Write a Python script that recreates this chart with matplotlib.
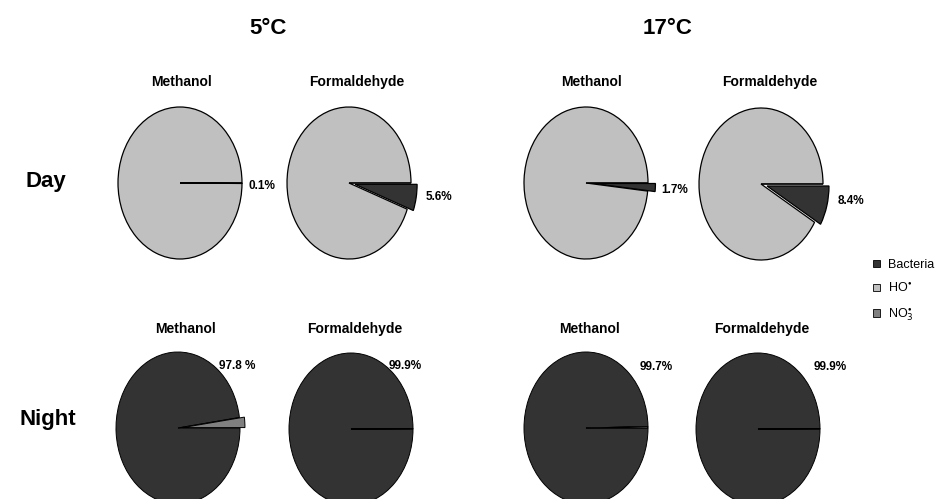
import matplotlib
matplotlib.use('Agg')
import matplotlib.pyplot as plt
from matplotlib.patches import Patch

plt.rcParams['font.family'] = ['Liberation Sans', 'DejaVu Sans']

W, H = 936, 499

# shares in %, order: Bacteria, HO, NO3
sources = ['Bacteria', r'HO$^{\bullet}$', r'NO$_3^{\bullet}$']
colors = ['#333333', '#c0c0c0', '#808080']

temps = ['5°C', '17°C']
compounds = ['Methanol', 'Formaldehyde']

day_5 = [[0.1, 99.9, 0.0], [5.6, 94.4, 0.0]]
day_17 = [[1.7, 98.3, 0.0], [8.4, 91.6, 0.0]]
night_5 = [[97.8, 0.0, 2.2], [99.9, 0.0, 0.1]]
night_17 = [[99.7, 0.0, 0.3], [99.9, 0.0, 0.1]]

day_labels = ['0.1%', '5.6%', '1.7%', '8.4%']
night_labels = ['97.8 %', '99.9%', '99.7%', '99.9%']

day_explode = [[0, 0, 0], [0.1, 0, 0], [0.12, 0, 0], [0.1, 0, 0]]
night_explode = [[0, 0, 0.08], [0, 0, 0], [0, 0, 0], [0, 0, 0]]

# pixel layout
day_centers = [(180, 183), (349, 183), (586, 183), (761, 184)]
night_centers = [(178, 428), (351, 429), (586, 428), (758, 429)]
rx, ry = 62, 76
k = 1.35

fig = plt.figure(figsize=(W / 100, H / 100), dpi=100)


def fx(x):
    return x / W


def fy(y):
    return 1 - y / H


def draw_pie(vals, cen, expl, lw):
    cx, cy = cen
    ax = fig.add_axes([fx(cx - k * rx), fy(cy + k * ry), 2 * k * rx / W, 2 * k * ry / H])
    ax.pie(vals, colors=colors, startangle=0, counterclock=False, explode=expl,
           wedgeprops=dict(edgecolor='black', linewidth=lw))
    ax.set_aspect('auto')
    ax.set_xlim(-k, k)
    ax.set_ylim(-k, k)
    ax.axis('off')
    for p in ax.patches:
        p.set_clip_on(False)
    return ax


day_vals = day_5 + day_17
night_vals = night_5 + night_17
for i in range(4):
    draw_pie(day_vals[i], day_centers[i], day_explode[i], 0.9)
    draw_pie(night_vals[i], night_centers[i], night_explode[i], 0.7)

bold = dict(fontweight='bold', ha='center', va='center')

# temperature headers
fig.text(fx(268), fy(29), temps[0], fontsize=16, **bold)
fig.text(fx(668), fy(29), temps[1], fontsize=16, **bold)

# compound headers
for x, name in zip([182, 357, 592, 770], compounds * 2):
    fig.text(fx(x), fy(82), name, fontsize=10, **bold)
for x, name in zip([185, 355, 590, 762], compounds * 2):
    fig.text(fx(x), fy(329), name, fontsize=10, **bold)

# row labels
fig.text(fx(46), fy(182), 'Day', fontsize=16, **bold)
fig.text(fx(48), fy(419), 'Night', fontsize=16, **bold)

# percentage labels
for (x, y), lab in zip([(262, 186), (439, 197), (675, 190), (851, 201)], day_labels):
    fig.text(fx(x), fy(y), lab, fontsize=8.5, **bold)
for (x, y), lab in zip([(237, 366), (405, 366), (656, 367), (830, 367)], night_labels):
    fig.text(fx(x), fy(y), lab, fontsize=8.5, **bold)

handles = [Patch(facecolor=c, edgecolor='black', linewidth=0.6) for c in colors]
fig.legend(handles, sources, loc='upper left', bbox_to_anchor=(fx(873), fy(259)),
           frameon=False, fontsize=9, handlelength=0.55, handleheight=0.55,
           handletextpad=0.64, labelspacing=0.88, borderaxespad=0, borderpad=0)

fig.savefig('out.png', dpi=100)
